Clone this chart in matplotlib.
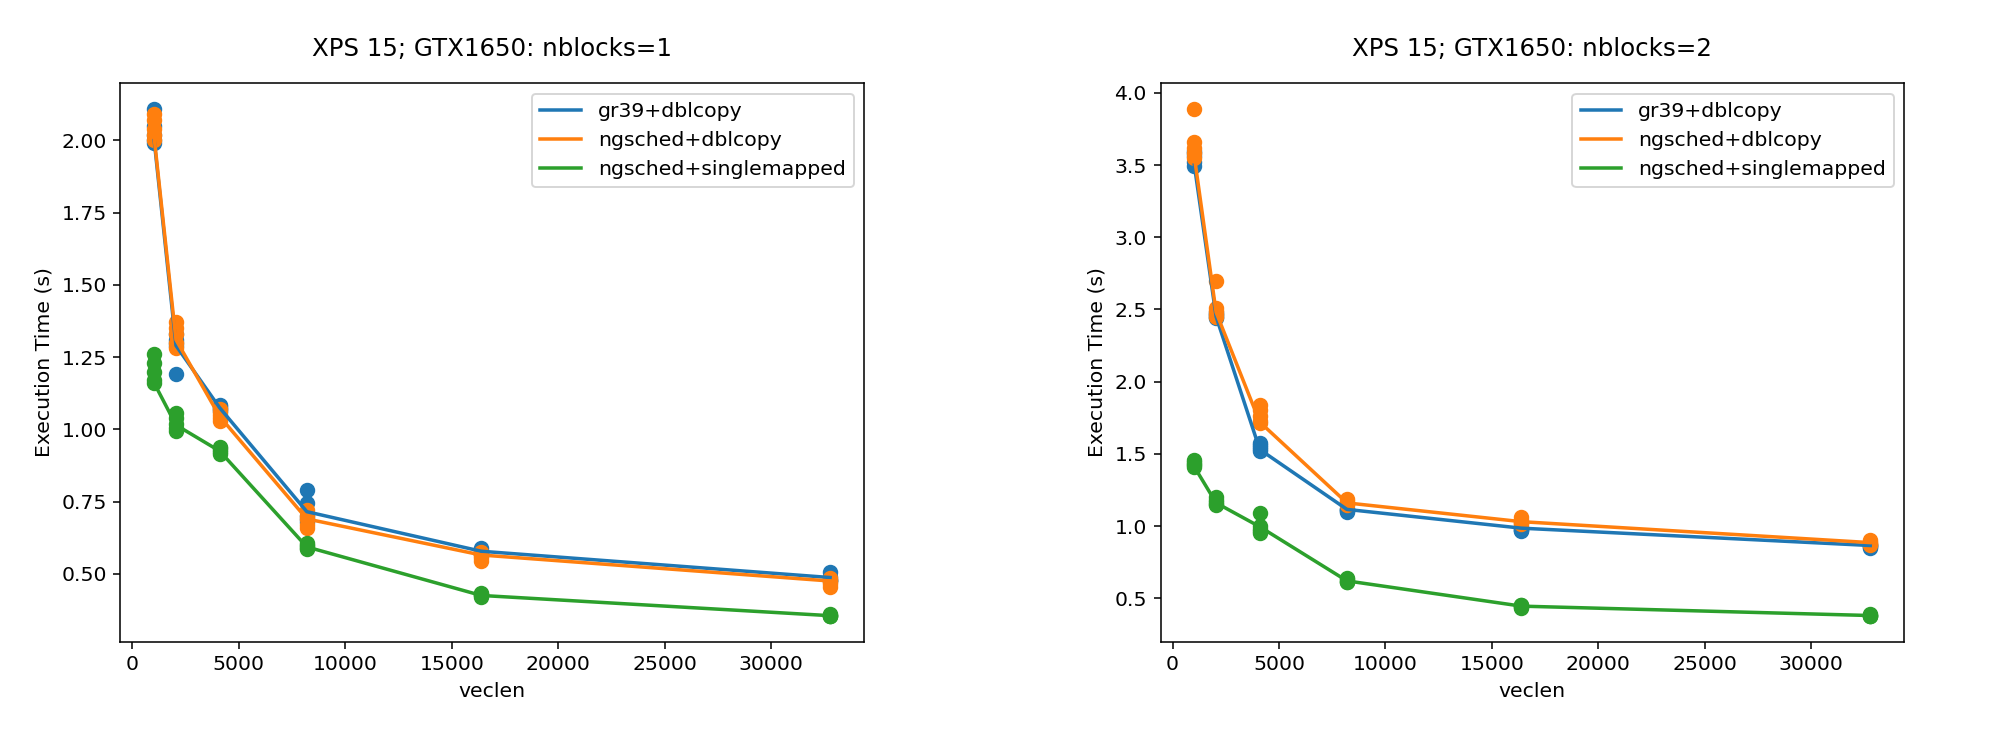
#!/usr/bin/python3

import numpy as np
import matplotlib
matplotlib.use("Agg")
import matplotlib.pyplot as plt

veclen = [1024, 2048, 4096, 8192, 16384, 32768]
labels = ["gr39+dblcopy", "ngsched+dblcopy", "ngsched+singlemapped"]

# nblocks=1: individual runs per veclen (rows follow veclen)
nb1_gr39_dbl_runs = [
    [2.11, 2.05, 2.02, 1.99, 2.00],
    [1.33, 1.30, 1.29, 1.31, 1.19],
    [1.085, 1.08, 1.07, 1.075, 1.065],
    [0.79, 0.745, 0.70, 0.69, 0.68],
    [0.59, 0.58, 0.575, 0.57, 0.57],
    [0.505, 0.49, 0.48, 0.48, 0.475],
]
nb1_ngs_dbl_runs = [
    [2.09, 2.07, 2.04, 2.02, 2.00],
    [1.37, 1.35, 1.33, 1.30, 1.28],
    [1.07, 1.06, 1.05, 1.04, 1.03],
    [0.72, 0.70, 0.69, 0.67, 0.66],
    [0.575, 0.57, 0.56, 0.555, 0.545],
    [0.485, 0.48, 0.47, 0.465, 0.455],
]
nb1_ngs_single_runs = [
    [1.26, 1.23, 1.20, 1.17, 1.16],
    [1.055, 1.04, 1.02, 1.005, 0.995],
    [0.94, 0.935, 0.93, 0.92, 0.915],
    [0.605, 0.60, 0.595, 0.59, 0.585],
    [0.435, 0.43, 0.425, 0.425, 0.42],
    [0.36, 0.358, 0.355, 0.355, 0.353],
]
# nblocks=1: summary line per series
nb1_gr39_dbl_line = [2.00, 1.29, 1.075, 0.715, 0.578, 0.487]
nb1_ngs_dbl_line = [2.01, 1.31, 1.045, 0.69, 0.565, 0.475]
nb1_ngs_single_line = [1.16, 1.015, 0.925, 0.593, 0.425, 0.355]

# nblocks=2: individual runs per veclen
nb2_gr39_dbl_runs = [
    [3.49, 3.52, 3.56, 3.58, 3.60],
    [2.46, 2.45, 2.47, 2.44, 2.48],
    [1.575, 1.56, 1.545, 1.53, 1.52],
    [1.12, 1.115, 1.11, 1.105, 1.10],
    [0.99, 0.985, 0.975, 0.97, 0.965],
    [0.87, 0.865, 0.86, 0.855, 0.85],
]
nb2_ngs_dbl_runs = [
    [3.89, 3.66, 3.62, 3.58, 3.55],
    [2.70, 2.51, 2.49, 2.47, 2.45],
    [1.84, 1.80, 1.76, 1.73, 1.71],
    [1.19, 1.17, 1.16, 1.15, 1.145],
    [1.065, 1.045, 1.03, 1.02, 1.015],
    [0.90, 0.89, 0.88, 0.875, 0.865],
]
nb2_ngs_single_runs = [
    [1.455, 1.44, 1.43, 1.42, 1.41],
    [1.20, 1.18, 1.165, 1.15, 1.145],
    [1.09, 1.00, 0.98, 0.965, 0.955],
    [0.64, 0.63, 0.62, 0.615, 0.61],
    [0.455, 0.45, 0.445, 0.44, 0.435],
    [0.39, 0.385, 0.38, 0.375, 0.375],
]
nb2_gr39_dbl_line = [3.50, 2.45, 1.53, 1.115, 0.985, 0.865]
nb2_ngs_dbl_line = [3.56, 2.48, 1.72, 1.16, 1.03, 0.885]
nb2_ngs_single_line = [1.41, 1.16, 0.995, 0.62, 0.445, 0.38]

titles = ["XPS 15; GTX1650: nblocks=1", "XPS 15; GTX1650: nblocks=2"]

plt.rcParams["font.size"] = 10.5


def draw(ax, runs, lines, title):
    for i, (r, ln) in enumerate(zip(runs, lines)):
        color = "C%d" % i
        ax.plot(veclen, ln, color=color, linewidth=1.8, label=labels[i])
        xs = np.repeat(veclen, [len(v) for v in r])
        ys = np.concatenate([np.asarray(v) for v in r])
        ax.scatter(xs, ys, color=color, s=48)
    ax.set_title(title, pad=14)
    ax.set_xlabel("veclen")
    ax.set_ylabel("Execution Time (s)")
    ax.legend(loc="upper right")


def main():
    fig, (ax1, ax2) = plt.subplots(1, 2, figsize=(2000 / 140, 744 / 140), dpi=140)
    fig.subplots_adjust(left=0.0602, right=0.952, bottom=0.1376, top=0.8880,
                        wspace=0.399)

    draw(ax1, [nb1_gr39_dbl_runs, nb1_ngs_dbl_runs, nb1_ngs_single_runs],
         [nb1_gr39_dbl_line, nb1_ngs_dbl_line, nb1_ngs_single_line], titles[0])
    draw(ax2, [nb2_gr39_dbl_runs, nb2_ngs_dbl_runs, nb2_ngs_single_runs],
         [nb2_gr39_dbl_line, nb2_ngs_dbl_line, nb2_ngs_single_line], titles[1])

    fig.savefig("out.png", dpi=140)
    print("graph created")


main()
